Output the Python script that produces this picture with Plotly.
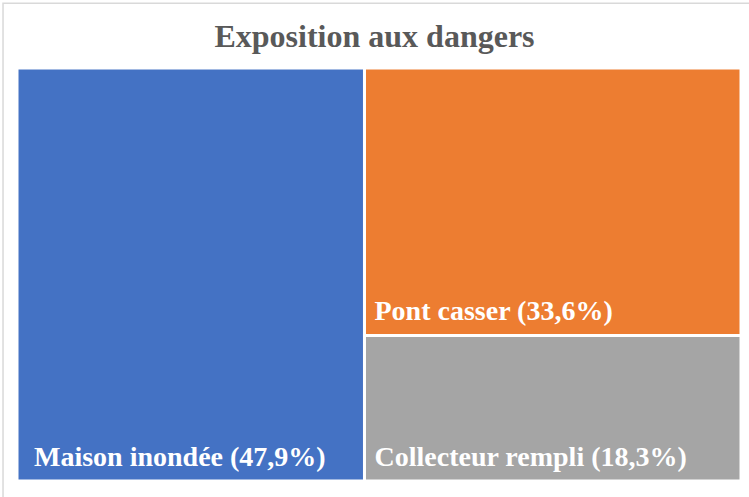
import plotly.graph_objects as go

# Données du treemap (racine + groupe de droite pour imposer la disposition)
ids = ["total", "Maison inondée", "droite", "Pont casser", "Collecteur rempli"]
parents = ["", "total", "total", "droite", "droite"]
valeurs = [0, 47.9, 0, 33.6, 18.3]
couleurs = ["white", "#4472C4", "white", "#ED7D31", "#A5A5A5"]

# petit retrait à gauche et en bas des étiquettes, comme dans Excel
fin = "<sub><span style='font-size:30px'>\u00a0</span></sub>"
gabarits = ["",
            "\u00a0\u00a0<b>%{label} (%{value:.1f}%)</b>" + fin,
            "",
            "\u00a0<b>%{label} (%{value:.1f}%)</b>" + fin,
            "\u00a0<b>%{label} (%{value:.1f}%)</b>" + fin]

fig = go.Figure(go.Treemap(
    ids=ids,
    labels=ids,
    parents=parents,
    values=valeurs,
    branchvalues="remainder",
    sort=False,
    domain=dict(x=[0, 1], y=[0, 1]),
    pathbar=dict(visible=False),
    tiling=dict(packing="slice-dice", pad=0),
    marker=dict(colors=couleurs, line=dict(color="white", width=3),
                pad=dict(t=0, l=0, r=0, b=0)),
    texttemplate=gabarits,
    textposition="bottom left",
    textfont=dict(family="Liberation Serif", size=28, color="white"),
    hoverinfo="label+value",
))

fig.update_layout(
    width=749,
    height=497,
    separators=", ",
    title=dict(
        text="<b>Exposition aux dangers</b>",
        x=0.5,
        xanchor="center",
        y=0.928,
        yanchor="middle",
        font=dict(family="Liberation Serif", size=32, color="#595959"),
    ),
    margin=dict(l=17, r=8, t=68, b=16),
    paper_bgcolor="white",
    shapes=[dict(
        type="rect", xref="paper", yref="paper",
        x0=-0.0193, x1=1.05, y0=-0.2, y1=1.157,
        line=dict(color="#d9d9d9", width=1.5),
        fillcolor="rgba(0,0,0,0)",
    )],
)

fig.write_html("out.html", config={"displayModeBar": False},
               post_script="document.body.style.margin='0';")
